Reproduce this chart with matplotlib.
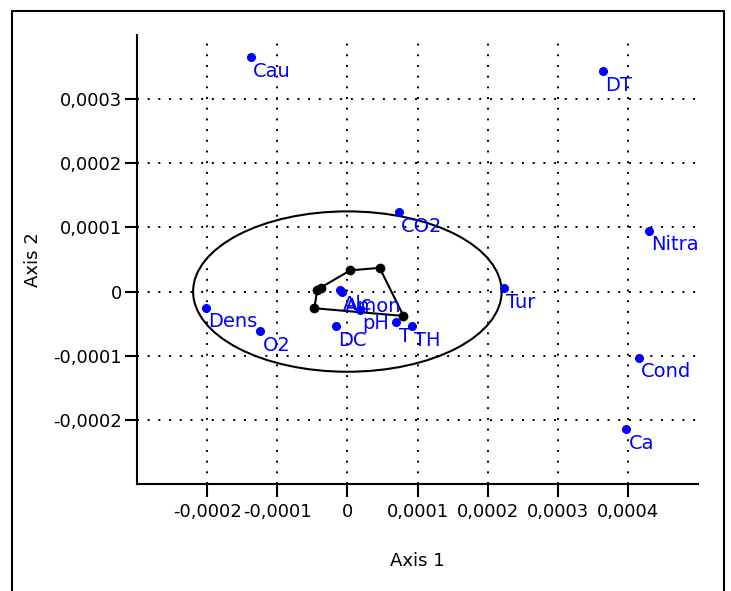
import matplotlib

matplotlib.use("Agg")
import matplotlib.pyplot as plt
import numpy as np
from matplotlib.patches import Ellipse, Rectangle
from matplotlib.ticker import FuncFormatter

# variable scores (blue points), axis 1 / axis 2
var_names = ["Cau", "DT", "CO2", "Nitra", "Tur", "Dens", "O2", "DC", "Cond", "Ca",
             "Alc", "Amon", "pH", "T", "TH"]
var_x = [-1.38e-4, 3.64e-4, 0.74e-4, 4.30e-4, 2.23e-4, -2.02e-4, -1.24e-4, -0.16e-4,
         4.16e-4, 3.98e-4, -0.10e-4, -0.07e-4, 0.185e-4, 0.70e-4, 0.92e-4]
var_y = [3.66e-4, 3.44e-4, 1.24e-4, 0.95e-4, 0.06e-4, -0.25e-4, -0.61e-4, -0.54e-4,
         -1.03e-4, -2.14e-4, 0.03e-4, -0.01e-4, -0.28e-4, -0.47e-4, -0.54e-4]

# sample scores (black points), hull order
obs_x = [-0.43e-4, 0.04e-4, 0.46e-4, 0.80e-4, -0.47e-4, -0.38e-4]
obs_y = [0.03e-4, 0.33e-4, 0.37e-4, -0.38e-4, -0.26e-4, 0.06e-4]
hull_idx = [0, 1, 2, 3, 4, 0]

# confidence ellipse
ell_center = (0.0, 0.0)
ell_width = 4.4e-4
ell_height = 2.5e-4

x_ticks = [-2e-4, -1e-4, 0, 1e-4, 2e-4, 3e-4, 4e-4]
y_ticks = [-2e-4, -1e-4, 0, 1e-4, 2e-4, 3e-4]

BLUE = "#0000ff"
FONT = "DejaVu Sans"


def comma_fmt(v, pos):
    if abs(v) < 1e-12:
        return "0"
    return f"{v:.4f}".replace(".", ",")


fig = plt.figure(figsize=(7.31, 5.91), dpi=100)
ax = fig.add_axes([137 / 731, 1 - 484 / 591, 561 / 731, 449 / 591])

ax.set_xlim(-3e-4, 5e-4)
ax.set_ylim(-3e-4, 4e-4)
ax.set_xticks(x_ticks)
ax.set_yticks(y_ticks)
ax.xaxis.set_major_formatter(FuncFormatter(comma_fmt))
ax.yaxis.set_major_formatter(FuncFormatter(comma_fmt))
ax.grid(True, color="black", linestyle=(0, (1, 4.5)), linewidth=1.4)

for side in ("top", "right"):
    ax.spines[side].set_visible(False)
for side in ("left", "bottom"):
    ax.spines[side].set_linewidth(1.5)
ax.tick_params(direction="out", length=9, width=1.5, labelsize=13, pad=2)
ax.tick_params(axis="x", pad=5)
for lab in ax.get_xticklabels() + ax.get_yticklabels():
    lab.set_fontfamily(FONT)

ax.add_patch(Ellipse(ell_center, ell_width, ell_height, fill=False,
                     edgecolor="black", linewidth=1.5, zorder=3))

hx = [obs_x[i] for i in hull_idx]
hy = [obs_y[i] for i in hull_idx]
ax.plot(hx, hy, color="black", linewidth=1.5, zorder=3)
ax.plot(obs_x, obs_y, "o", color="black", markersize=6, zorder=4)

ax.plot(var_x, var_y, "o", color=BLUE, markersize=5.5, zorder=5)
for name, x, y in zip(var_names, var_x, var_y):
    ax.annotate(name, (x, y), xytext=(1.5, -3.5), textcoords="offset points",
                ha="left", va="top", color=BLUE, fontsize=14, family=FONT, zorder=6)

ax.set_xlabel("Axis 1", fontsize=13, family=FONT, labelpad=22)
ax.set_ylabel("Axis 2", fontsize=13, family=FONT, labelpad=8)

fig.add_artist(Rectangle((12 / 731, -0.01), 712 / 731, 1 - 11 / 591 + 0.01,
                         transform=fig.transFigure, fill=False,
                         edgecolor="black", linewidth=1.5))

fig.savefig("out.png", dpi=100)
